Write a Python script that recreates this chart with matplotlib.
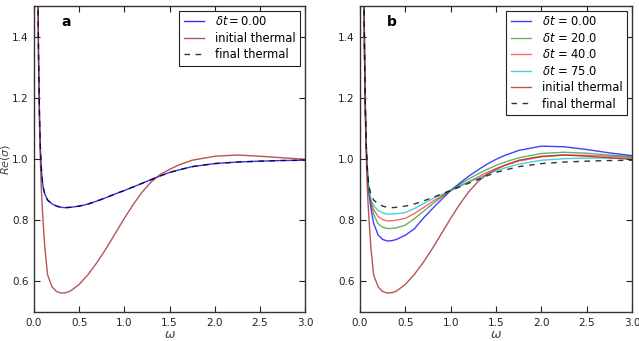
import matplotlib
matplotlib.use("Agg")
import matplotlib.pyplot as plt

omega = [0.02, 0.03, 0.04, 0.05, 0.06, 0.07, 0.08, 0.09, 0.10, 0.12, 0.15, 0.20,
         0.25, 0.30, 0.35, 0.40, 0.50, 0.60, 0.70, 0.80, 0.90, 1.00, 1.10, 1.20,
         1.30, 1.40, 1.50, 1.60, 1.75, 2.00, 2.25, 2.50, 2.75, 3.00]

final_thermal = [3.0, 2.1, 1.65, 1.35, 1.16, 1.04, 0.975, 0.935, 0.91, 0.885, 0.866, 0.853,
                 0.846, 0.842, 0.841, 0.842, 0.846, 0.853, 0.863, 0.874, 0.886, 0.897, 0.909, 0.921,
                 0.933, 0.945, 0.956, 0.964, 0.975, 0.985, 0.990, 0.993, 0.995, 0.996]

# panel a: delta t = 0.00 coincides with the final thermal curve
panel_a_dt_000 = [3.0, 2.1, 1.65, 1.35, 1.16, 1.04, 0.975, 0.935, 0.91, 0.885, 0.866, 0.853,
                  0.846, 0.842, 0.841, 0.842, 0.846, 0.853, 0.863, 0.874, 0.886, 0.897, 0.909, 0.921,
                  0.933, 0.945, 0.956, 0.964, 0.975, 0.985, 0.990, 0.993, 0.995, 0.996]

initial_thermal = [3.0, 2.1, 1.63, 1.32, 1.12, 1.00, 0.91, 0.85, 0.80, 0.71, 0.622, 0.582,
                   0.567, 0.562, 0.563, 0.568, 0.590, 0.623, 0.663, 0.708, 0.757, 0.806, 0.852, 0.893,
                   0.926, 0.950, 0.966, 0.980, 0.996, 1.009, 1.013, 1.009, 1.004, 0.999]

dt_000 = [3.0, 2.1, 1.65, 1.35, 1.15, 1.03, 0.96, 0.915, 0.885, 0.84, 0.79, 0.752,
          0.737, 0.732, 0.733, 0.737, 0.751, 0.772, 0.807, 0.838, 0.868, 0.897, 0.921, 0.944,
          0.964, 0.983, 0.999, 1.012, 1.028, 1.042, 1.040, 1.031, 1.020, 1.011]

dt_200 = [3.0, 2.1, 1.65, 1.35, 1.15, 1.035, 0.965, 0.92, 0.89, 0.855, 0.82, 0.788,
          0.777, 0.773, 0.773, 0.775, 0.784, 0.805, 0.829, 0.853, 0.876, 0.897, 0.917, 0.935,
          0.951, 0.966, 0.979, 0.990, 1.004, 1.018, 1.022, 1.019, 1.013, 1.008]

dt_400 = [3.0, 2.1, 1.65, 1.35, 1.155, 1.037, 0.968, 0.925, 0.895, 0.862, 0.835, 0.812,
          0.802, 0.798, 0.798, 0.800, 0.806, 0.822, 0.841, 0.861, 0.879, 0.897, 0.912, 0.926,
          0.941, 0.956, 0.969, 0.979, 0.993, 1.007, 1.013, 1.012, 1.009, 1.005]

dt_750 = [3.0, 2.1, 1.65, 1.35, 1.157, 1.038, 0.97, 0.928, 0.90, 0.868, 0.848, 0.832,
          0.824, 0.820, 0.820, 0.821, 0.825, 0.838, 0.854, 0.870, 0.884, 0.897, 0.911, 0.924,
          0.937, 0.950, 0.961, 0.971, 0.983, 0.996, 1.001, 1.003, 1.003, 1.003]

xticks = [0.0, 0.5, 1.0, 1.5, 2.0, 2.5, 3.0]
yticks = [0.6, 0.8, 1.0, 1.2, 1.4]

fig = plt.figure(figsize=(6.39, 3.41), dpi=100)
ax1 = fig.add_axes([34/639, 1-312/341, 271/639, 306/341])
ax2 = fig.add_axes([360/639, 1-312/341, 272/639, 306/341])

lw = 1.0
dash = (0, (4, 4))
# panel a
ax1.plot(omega, panel_a_dt_000, color='b', lw=lw, alpha=0.8, label=r'$\delta t=$0.00')
ax1.plot(omega, initial_thermal, color='#a52a2a', lw=lw, alpha=0.8, label='initial thermal')
ax1.plot(omega, final_thermal, color='k', lw=lw, ls=dash, alpha=0.8, label='final thermal')

# panel b
ax2.plot(omega, dt_000, color='b', lw=lw, alpha=0.75, label=r'$\delta t$ = 0.00')
ax2.plot(omega, dt_200, color='g', lw=lw, alpha=0.6, label=r'$\delta t$ = 20.0')
ax2.plot(omega, dt_400, color='r', lw=lw, alpha=0.6, label=r'$\delta t$ = 40.0')
ax2.plot(omega, dt_750, color='c', lw=lw, alpha=0.7, label=r'$\delta t$ = 75.0')
ax2.plot(omega, initial_thermal, color='#a52a2a', lw=lw, alpha=0.8, label='initial thermal')
ax2.plot(omega, final_thermal, color='k', lw=lw, ls=dash, alpha=0.8, label='final thermal')

for ax, lab in [(ax1, 'a'), (ax2, 'b')]:
    ax.set_xlim(0, 3.0)
    ax.set_ylim(0.5, 1.5)
    ax.set_xticks(xticks)
    ax.set_yticks(yticks)
    ax.tick_params(direction='in', top=True, right=True, labelsize=7.5, length=4,
                   width=0.8, colors='#222222', pad=4)
    for s in ax.spines.values():
        s.set_color('#333333')
        s.set_linewidth(1.0)
    ax.set_xlabel(r'$\omega$', fontsize=9, color='#444444', labelpad=0.5)
    ax.text(0.1, 0.935, lab, transform=ax.transAxes, fontsize=10, fontweight='bold')
    leg = ax.legend(loc='upper right', fontsize=8.3, fancybox=False, framealpha=1,
                    edgecolor='#222222', handlelength=1.7, handletextpad=1.0,
                    borderpad=0.4, labelspacing=0.3, borderaxespad=0.4)
    leg.get_frame().set_linewidth(0.8)

ax1.set_ylabel(r'$Re(\sigma)$', fontsize=8, color='#444444')
ax1.yaxis.set_label_coords(-0.083, 0.5)

fig.savefig('out.png', dpi=100)
